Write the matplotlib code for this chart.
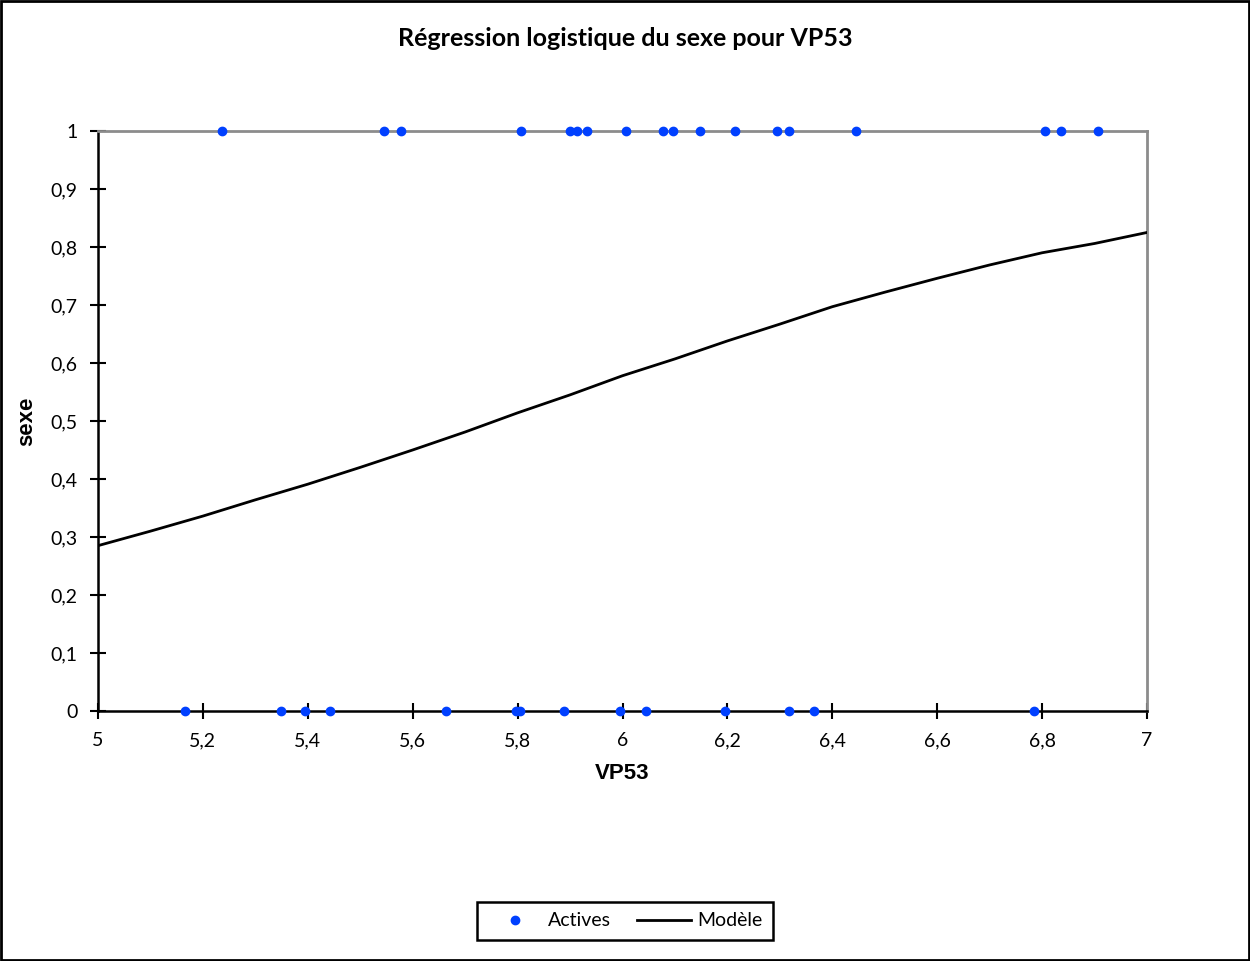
import matplotlib
matplotlib.use("Agg")
import matplotlib.pyplot as plt
from matplotlib.patches import Rectangle
from matplotlib.ticker import FuncFormatter

# Observations (VP53) by sex group
vp53_sexe1 = [5.236, 5.546, 5.578, 5.806, 5.899, 5.913, 5.933, 6.006, 6.077,
              6.097, 6.148, 6.215, 6.295, 6.317, 6.445, 6.806, 6.836, 6.907]
vp53_sexe0 = [5.165, 5.348, 5.395, 5.443, 5.664, 5.796, 5.805, 5.889, 5.995,
              6.045, 6.196, 6.317, 6.366, 6.784]

# Fitted model probabilities
model_x = [5.0, 5.1, 5.2, 5.3, 5.4, 5.5, 5.6, 5.7, 5.8, 5.9, 6.0,
           6.1, 6.2, 6.3, 6.4, 6.5, 6.6, 6.7, 6.8, 6.9, 7.0]
model_p = [0.285, 0.310, 0.336, 0.364, 0.391, 0.420, 0.450, 0.481, 0.514, 0.545, 0.578,
           0.607, 0.638, 0.667, 0.697, 0.722, 0.746, 0.769, 0.790, 0.806, 0.825]

x_ticks = [5.0, 5.2, 5.4, 5.6, 5.8, 6.0, 6.2, 6.4, 6.6, 6.8, 7.0]
y_ticks = [0.0, 0.1, 0.2, 0.3, 0.4, 0.5, 0.6, 0.7, 0.8, 0.9, 1.0]

title = "Régression logistique du sexe pour VP53"
x_label = "VP53"
y_label = "sexe"

tick_font = ["Lato", "DejaVu Sans"]
label_font = ["Liberation Sans", "DejaVu Sans"]
point_color = "#0040ff"

fig = plt.figure(figsize=(12.5, 9.61), dpi=100)
fig.patch.set_facecolor("white")
ax = fig.add_axes([0.0784, 0.2602, 0.8392, 0.6035])

ax.plot(vp53_sexe1, [1] * len(vp53_sexe1), "o", color=point_color, ms=6,
        clip_on=False, zorder=5, label="Actives")
ax.plot(vp53_sexe0, [0] * len(vp53_sexe0), "o", color=point_color, ms=6,
        clip_on=False, zorder=5)
ax.plot(model_x, model_p, "-", color="black", lw=2, label="Modèle", zorder=4)

ax.set_xlim(5, 7)
ax.set_ylim(0, 1)
ax.set_xticks(x_ticks)
ax.set_yticks(y_ticks)

def comma_fmt(v, pos):
    s = f"{v:.1f}".rstrip("0").rstrip(".")
    return s.replace(".", ",")

ax.xaxis.set_major_formatter(FuncFormatter(comma_fmt))
ax.yaxis.set_major_formatter(FuncFormatter(comma_fmt))

for lab in ax.get_xticklabels() + ax.get_yticklabels():
    lab.set_fontfamily(tick_font)
    lab.set_fontsize(14)

ax.tick_params(axis="both", direction="inout", length=11, width=1.5, colors="black")
ax.tick_params(axis="x", pad=10)
ax.tick_params(axis="y", pad=9)

for side in ("left", "bottom"):
    ax.spines[side].set_color("black")
    ax.spines[side].set_linewidth(1.8)
for side in ("top", "right"):
    ax.spines[side].set_color("#8c8c8c")
    ax.spines[side].set_linewidth(2)

ax.set_xlabel(x_label, fontfamily=label_font, fontweight="bold", fontsize=16, labelpad=10)
ax.set_ylabel(y_label, fontfamily=label_font, fontweight="bold", fontsize=16, labelpad=10)

fig.text(0.5, 1 - 38 / 961, title, ha="center", va="center",
         fontfamily=tick_font, fontweight="bold", fontsize=18)

leg = fig.legend(loc="center", bbox_to_anchor=(625 / 1250, 1 - 921 / 961), ncol=2,
                 numpoints=1, handlelength=2.8, handletextpad=0.3, columnspacing=1.3,
                 fancybox=False, edgecolor="black", framealpha=1,
                 prop={"family": tick_font, "size": 14}, borderpad=0.55)
leg.get_frame().set_linewidth(1.8)
leg.legend_handles[0].set_markersize(6)

# outer frame around the whole figure
fig.patches.append(Rectangle((0.001, 0.001), 0.998, 0.998, transform=fig.transFigure,
                             fill=False, edgecolor="black", lw=2))

fig.savefig("out.png", dpi=100)
